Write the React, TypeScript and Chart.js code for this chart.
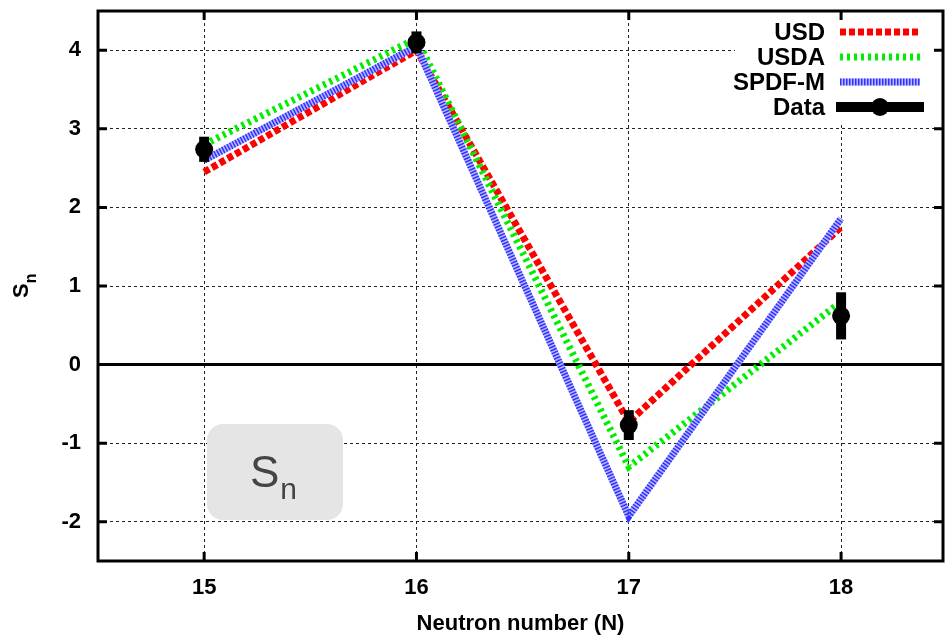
import React, { useEffect, useRef } from "react";
import { Chart, registerables } from "chart.js";

Chart.register(...registerables);

// ---- data ----
const neutronNumbers = [15, 16, 17, 18];
const usdValues = [2.45, 4.0, -0.73, 1.75];
const usdaValues = [2.8, 4.15, -1.3, 0.8];
const spdfmValues = [2.6, 4.05, -1.93, 1.86];
const dataValues = [2.74, 4.1, -0.77, 0.62];
const dataErrors = [0.16, 0.14, 0.19, 0.3];
const xTicks = [15, 16, 17, 18];
const yTicks = [-2, -1, 0, 1, 2, 3, 4];
const seriesLabels = ["USD", "USDA", "SPDF-M", "Data"];
const xTitle = "Neutron number (N)";
const yTitleMain = "S";
const yTitleSub = "n";
const boxMain = "S";
const boxSub = "n";

const FONT = "'Liberation Sans', Arial, Helvetica, sans-serif";

const styles = [
  { color: "#ff0000", width: 7, dash: [6, 3], under: null as string | null },
  { color: "#00ee00", width: 7, dash: [3, 4], under: null as string | null },
  { color: "#3030ff", width: 7, dash: [1.5, 1.5], under: "#b8b8ff" as string | null },
];

function drawPolyline(ctx: CanvasRenderingContext2D, pts: { x: number; y: number }[]) {
  ctx.beginPath();
  pts.forEach((p, i) => (i === 0 ? ctx.moveTo(p.x, p.y) : ctx.lineTo(p.x, p.y)));
  ctx.stroke();
}

const customPlugin = {
  id: "customDecor",
  beforeDatasetsDraw(chart: any) {
    const { ctx, chartArea: a, scales } = chart;
    const y = scales.y;
    ctx.save();
    // Sn annotation box
    const bx = a.left + 109;
    const by = a.top + 413;
    ctx.fillStyle = "#e5e5e5";
    ctx.beginPath();
    (ctx as any).roundRect(bx, by, 136, 96, 16);
    ctx.fill();
    ctx.fillStyle = "#444444";
    ctx.textAlign = "left";
    ctx.textBaseline = "alphabetic";
    ctx.font = `44px ${FONT}`;
    ctx.fillText(boxMain, bx + 43, by + 63);
    const w = ctx.measureText(boxMain).width;
    ctx.font = `30px ${FONT}`;
    ctx.fillText(boxSub, bx + 43 + w + 1, by + 75);
    // zero line
    const y0 = y.getPixelForValue(0);
    ctx.strokeStyle = "#000";
    ctx.lineWidth = 3;
    ctx.beginPath();
    ctx.moveTo(a.left, y0);
    ctx.lineTo(a.right, y0);
    ctx.stroke();
    ctx.restore();
  },
  beforeDatasetDraw(chart: any, args: any) {
    const { ctx, scales } = chart;
    const meta = chart.getDatasetMeta(args.index);
    ctx.save();
    if (args.index === 2) {
      ctx.strokeStyle = styles[2].under;
      ctx.lineWidth = styles[2].width;
      ctx.setLineDash([]);
      drawPolyline(ctx, meta.data.map((p: any) => ({ x: p.x, y: p.y })));
    }
    if (args.index === 3) {
      ctx.fillStyle = "#000";
      neutronNumbers.forEach((n, i) => {
        const px = scales.x.getPixelForValue(n);
        const top = scales.y.getPixelForValue(dataValues[i] + dataErrors[i]);
        const bot = scales.y.getPixelForValue(dataValues[i] - dataErrors[i]);
        ctx.fillRect(px - 5, top, 10, bot - top);
      });
    }
    ctx.restore();
  },
  afterDraw(chart: any) {
    const { ctx, chartArea: a, scales } = chart;
    ctx.save();
    // legend
    ctx.fillStyle = "#fff";
    ctx.fillRect(a.right - 208, a.top + 3, 199, 108);
    const rows = [21, 46, 71, 96];
    chart.data.datasets.forEach((ds: any, i: number) => {
      const yy = a.top + rows[i];
      ctx.font = `bold 24px ${FONT}`;
      ctx.textAlign = "right";
      ctx.textBaseline = "middle";
      ctx.fillStyle = "#000";
      ctx.fillText(ds.label, a.right - 118, yy + 1);
      if (i === 3) {
        ctx.strokeStyle = "#000";
        ctx.lineWidth = 10;
        ctx.setLineDash([]);
        ctx.beginPath();
        ctx.moveTo(a.right - 107, yy);
        ctx.lineTo(a.right - 19, yy);
        ctx.stroke();
        ctx.beginPath();
        ctx.arc(a.right - 63, yy, 9, 0, Math.PI * 2);
        ctx.fill();
      } else {
        const s = styles[i];
        if (s.under) {
          ctx.strokeStyle = s.under;
          ctx.lineWidth = s.width;
          ctx.setLineDash([]);
          ctx.beginPath();
          ctx.moveTo(a.right - 103, yy);
          ctx.lineTo(a.right - 23, yy);
          ctx.stroke();
        }
        ctx.strokeStyle = s.color;
        ctx.lineWidth = s.width;
        ctx.setLineDash(s.dash);
        ctx.lineCap = "butt";
        ctx.beginPath();
        ctx.moveTo(a.right - 103, yy);
        ctx.lineTo(a.right - 23, yy);
        ctx.stroke();
      }
    });
    ctx.setLineDash([]);
    // frame
    ctx.strokeStyle = "#000";
    ctx.lineWidth = 3;
    ctx.strokeRect(a.left, a.top, a.right - a.left, a.bottom - a.top);
    // inward ticks
    const tl = 9;
    ctx.lineWidth = 3;
    xTicks.forEach((v) => {
      const px = scales.x.getPixelForValue(v);
      ctx.beginPath();
      ctx.moveTo(px, a.bottom);
      ctx.lineTo(px, a.bottom - tl);
      ctx.moveTo(px, a.top);
      ctx.lineTo(px, a.top + tl);
      ctx.stroke();
    });
    yTicks.forEach((v) => {
      const py = scales.y.getPixelForValue(v);
      ctx.beginPath();
      ctx.moveTo(a.left, py);
      ctx.lineTo(a.left + tl, py);
      ctx.moveTo(a.right, py);
      ctx.lineTo(a.right - tl, py);
      ctx.stroke();
    });
    // x title
    ctx.fillStyle = "#000";
    ctx.font = `bold 22px ${FONT}`;
    ctx.textAlign = "center";
    ctx.textBaseline = "middle";
    ctx.fillText(xTitle, (a.left + a.right) / 2, a.bottom + 63);
    // y title (rotated, with subscript)
    ctx.translate(28, (a.top + a.bottom) / 2 + 12);
    ctx.rotate(-Math.PI / 2);
    ctx.textAlign = "left";
    ctx.textBaseline = "alphabetic";
    ctx.font = `bold 22px ${FONT}`;
    ctx.fillText(yTitleMain, 0, 0);
    const sw = ctx.measureText(yTitleMain).width;
    ctx.font = `bold 16px ${FONT}`;
    ctx.fillText(yTitleSub, sw, 8);
    ctx.restore();
  },
};

export default function App() {
  const ref = useRef<HTMLCanvasElement>(null);
  useEffect(() => {
    const canvas = ref.current!;
    const series = [usdValues, usdaValues, spdfmValues];
    const lineSets = series.map((vals, i) => ({
      type: "line" as const,
      label: seriesLabels[i],
      data: neutronNumbers.map((x, k) => ({ x, y: vals[k] })),
      borderColor: styles[i].color,
      borderWidth: styles[i].width,
      borderDash: styles[i].dash,
      borderCapStyle: "butt" as const,
      pointRadius: 0,
      fill: false,
      tension: 0,
      order: 3 - i,
    }));
    const dataSet = {
      type: "line" as const,
      label: seriesLabels[3],
      data: neutronNumbers.map((x, k) => ({ x, y: dataValues[k] })),
      showLine: false,
      pointRadius: 9,
      pointBackgroundColor: "#000",
      pointBorderColor: "#000",
      pointBorderWidth: 0,
      order: 0,
    };
    const tickFont = { family: FONT, size: 22, weight: "bold" as const };
    const chart = new Chart(canvas, {
      type: "line",
      data: { datasets: [...lineSets, dataSet] as any },
      options: {
        animation: false,
        responsive: false,
        devicePixelRatio: 1,
        layout: { autoPadding: false, padding: { top: 11, right: 2, left: 0, bottom: 0 } },
        plugins: { legend: { display: false }, tooltip: { enabled: false } },
        scales: {
          x: {
            type: "linear",
            min: 14.5,
            max: 18.48,
            afterBuildTicks: (s: any) => {
              s.ticks = xTicks.map((v) => ({ value: v }));
            },
            afterFit: (s: any) => {
              s.height = 77;
              s.paddingLeft = 0;
              s.paddingRight = 0;
              s.paddingTop = 0;
              s.paddingBottom = 0;
            },
            grid: { color: "#222", lineWidth: 1, drawTicks: false },
            border: { display: false, dash: [3, 3] },
            ticks: { font: tickFont, color: "#000", padding: 14, callback: (v: any) => String(v) },
          },
          y: {
            type: "linear",
            min: -2.5,
            max: 4.5,
            afterBuildTicks: (s: any) => {
              s.ticks = yTicks.map((v) => ({ value: v }));
            },
            afterFit: (s: any) => {
              s.width = 98;
              s.paddingLeft = 0;
              s.paddingRight = 0;
              s.paddingTop = 0;
              s.paddingBottom = 0;
            },
            grid: { color: "#222", lineWidth: 1, drawTicks: false },
            border: { display: false, dash: [3, 3] },
            ticks: { font: tickFont, color: "#000", padding: 17, callback: (v: any) => String(v) },
          },
        },
      },
      plugins: [customPlugin],
    });
    return () => chart.destroy();
  }, []);
  return (
    <div style={{ position: "absolute", left: 0, top: 0, width: 945, height: 638, background: "#fff" }}>
      <canvas ref={ref} width={945} height={638} style={{ display: "block" }} />
    </div>
  );
}
